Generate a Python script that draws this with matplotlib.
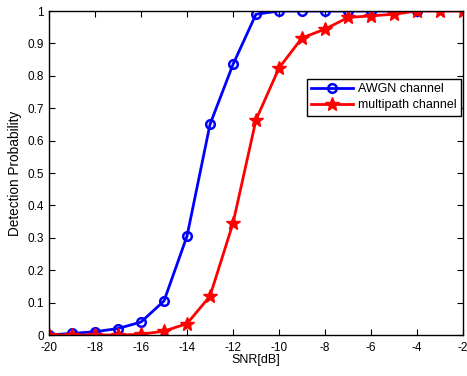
import matplotlib
matplotlib.use("Agg")
import matplotlib.pyplot as plt

plt.rcParams['font.family'] = ['Liberation Sans', 'DejaVu Sans']
plt.rcParams['axes.unicode_minus'] = False

snr_awgn = [-20, -19, -18, -17, -16, -15, -14, -13, -12, -11, -10, -9, -8, -7, -6, -5, -4]
pd_awgn = [0.0, 0.005, 0.01, 0.02, 0.04, 0.105, 0.305, 0.65, 0.835, 0.99,
           1.0, 1.0, 1.0, 1.0, 1.0, 1.0, 1.0]

snr_multi = list(range(-20, -1))
pd_multi = [0.0, 0.0, 0.0, 0.0, 0.002, 0.012, 0.035, 0.12, 0.345, 0.664,
            0.824, 0.917, 0.944, 0.98, 0.985, 0.99, 1.0, 1.0, 1.0]

fig = plt.figure(figsize=(4.67, 3.76), dpi=100)
ax = fig.add_axes([49/467, 1 - 335/376, 414/467, 324/376])

ax.plot(snr_awgn, pd_awgn, color='#0000ff', lw=2, marker='o', ms=6.2,
        mfc='none', mew=1.8, label='AWGN channel')
ax.plot(snr_multi, pd_multi, color='#ff0000', lw=2, marker='*', ms=10.5,
        mew=1, label='multipath channel')

ax.set_xlim(-20, -2)
ax.set_ylim(0, 1)
ax.set_xticks(range(-20, -1, 2))
ax.set_yticks([i / 10 for i in range(11)])
ax.set_yticklabels(['0'] + ['%.1f' % (i / 10) for i in range(1, 10)] + ['1'])
ax.tick_params(direction='in', top=True, right=True, labelsize=8.5, length=4)
ax.tick_params(axis='x', pad=5)
ax.tick_params(axis='y', pad=3.5)
for s in ax.spines.values():
    s.set_linewidth(1)

ax.set_xlabel('SNR[dB]', fontsize=9, labelpad=0)
ax.set_ylabel('Detection Probability', fontsize=9.8, labelpad=4)

leg = ax.legend(loc='upper left', bbox_to_anchor=(258/414, 1 - 68/324), fontsize=9,
                frameon=True, fancybox=False, edgecolor='black', framealpha=1,
                borderpad=0.35, handlelength=3.3, labelspacing=0.3, handletextpad=0.4,
                borderaxespad=0)
leg.get_frame().set_linewidth(1)

fig.savefig('out.png', dpi=100)
